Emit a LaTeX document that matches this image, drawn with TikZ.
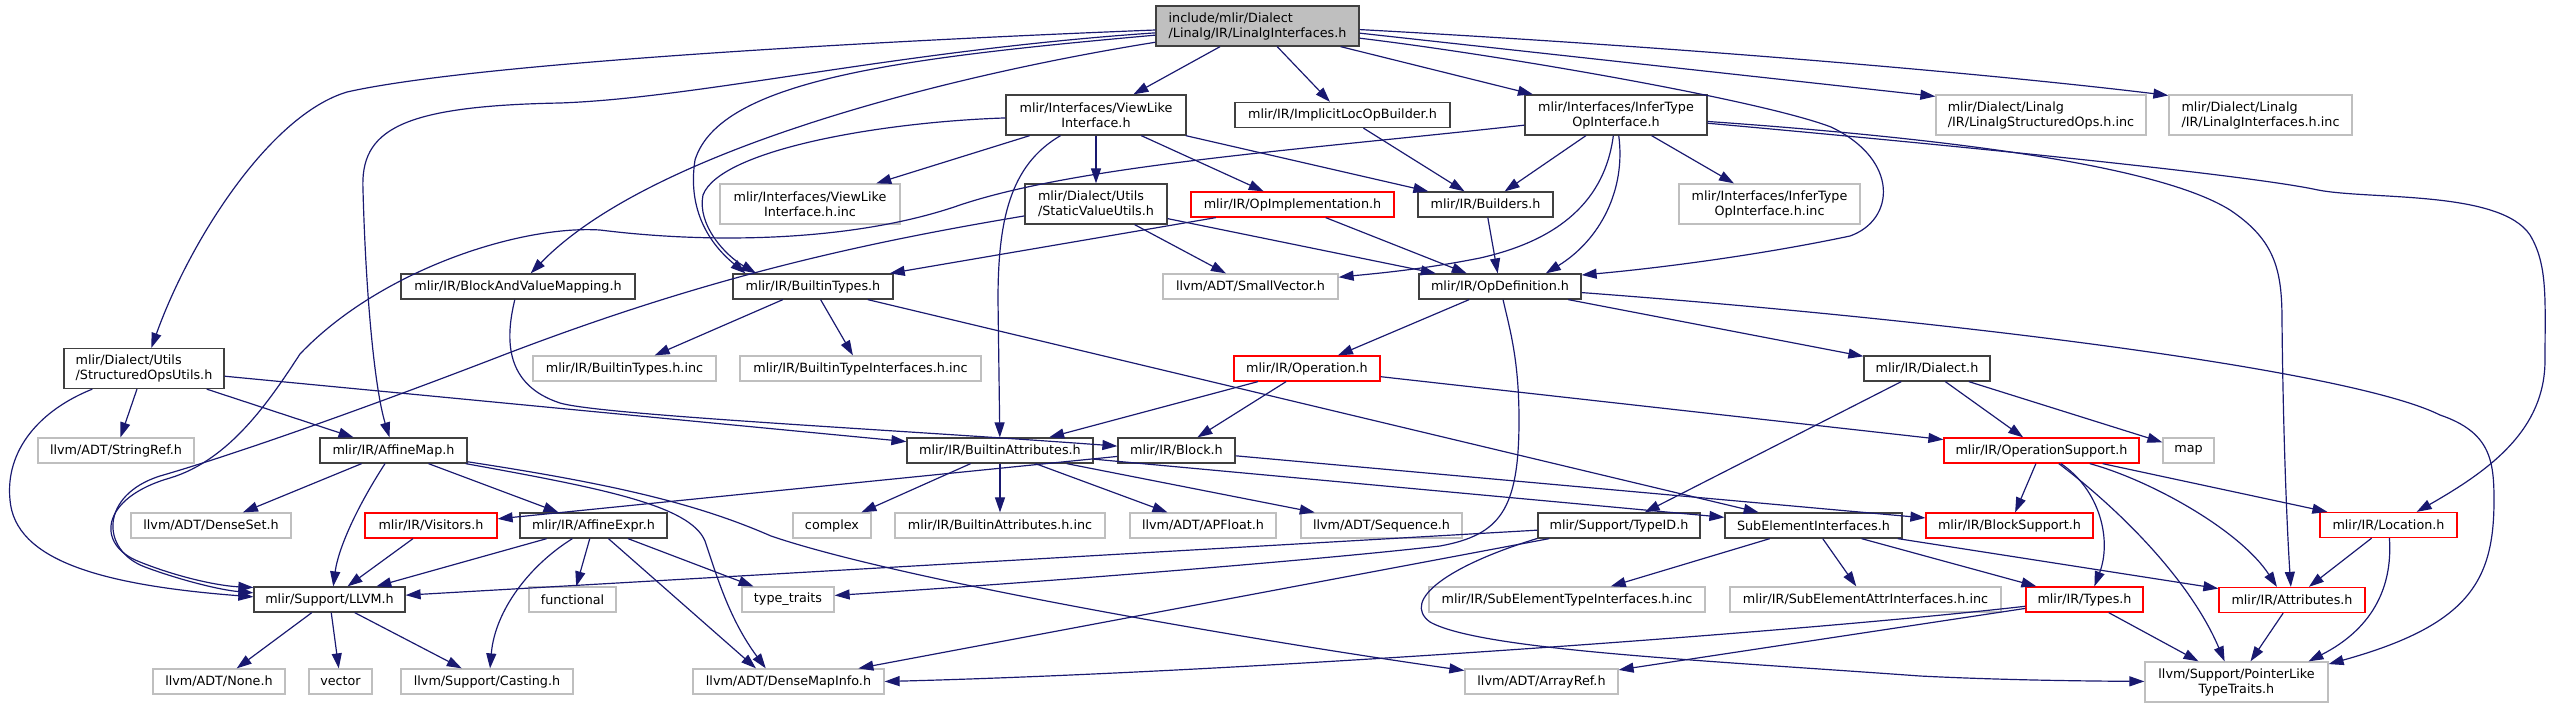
\documentclass[tikz,border=0pt]{standalone}
\usepackage{fontspec}
\setmainfont{DejaVu Sans}
\usetikzlibrary{arrows.meta}
\definecolor{navyedge}{HTML}{191970}
\definecolor{docborder}{HTML}{404040}
\definecolor{extgray}{HTML}{BFBFBF}
\definecolor{truncred}{HTML}{FF0000}
\definecolor{topfill}{HTML}{BFBFBF}
\newcommand\nodefont{\fontsize{10.2}{12}\selectfont}
\tikzset{
  nb/.style={draw=docborder, line width=1pt, fill=white, rectangle, inner sep=0pt,
    minimum height=20pt, font=\nodefont, text=black},
  ext/.style={nb, draw=extgray},
  trunc/.style={nb, draw=truncred},
  two/.style={minimum height=32pt},
  wd/.style={minimum width=#1*0.8pt},
  conn/.style={draw=navyedge, line width=0.95pt, -{Triangle[length=12pt,width=8pt]}},
}
\begin{document}
\begin{tikzpicture}[x=0.8pt,y=-0.8pt]
\useasboundingbox (0,0) rectangle (2550,708);
% ---------------- nodes ----------------
\node[nb, two, wd=203, fill=topfill, align=left] (top) at (1257.5,26) {include/mlir/Dialect\\/Linalg/IR/LinalgInterfaces.h};
\node[nb, two, wd=180, align=center] (viewlike) at (1096,115) {mlir/Interfaces/ViewLike\\Interface.h};
\node[nb, wd=215] (implicit) at (1342.5,115) {mlir/IR/ImplicitLocOpBuilder.h};
\node[nb, two, wd=182, align=center] (infertype) at (1616,115) {mlir/Interfaces/InferType\\OpInterface.h};
\node[ext, two, wd=210, align=left] (lsoinc) at (2041,115) {mlir/Dialect/Linalg\\/IR/LinalgStructuredOps.h.inc};
\node[ext, two, wd=183, align=left] (liinc) at (2260.5,115) {mlir/Dialect/Linalg\\/IR/LinalgInterfaces.h.inc};
\node[ext, two, wd=180, align=center] (viewlikeinc) at (810,204) {mlir/Interfaces/ViewLike\\Interface.h.inc};
\node[nb, two, wd=142, align=left] (staticvalue) at (1096,204) {mlir/Dialect/Utils\\/StaticValueUtils.h};
\node[trunc, wd=203] (opimpl) at (1292.5,204.5) {mlir/IR/OpImplementation.h};
\node[nb, wd=135] (builders) at (1485.5,204.5) {mlir/IR/Builders.h};
\node[ext, two, wd=181, align=center] (infertypeinc) at (1769.5,204) {mlir/Interfaces/InferType\\OpInterface.h.inc};
\node[nb, wd=234] (bavm) at (518,286.5) {mlir/IR/BlockAndValueMapping.h};
\node[nb, wd=160] (builtintypes) at (813,286.5) {mlir/IR/BuiltinTypes.h};
\node[ext, wd=175] (smallvector) at (1250.5,286.5) {llvm/ADT/SmallVector.h};
\node[nb, wd=162] (opdef) at (1500,286.5) {mlir/IR/OpDefinition.h};
\node[nb, two, wd=160, align=left] (structops) at (144,368.5) {mlir/Dialect/Utils\\/StructuredOpsUtils.h};
\node[ext, wd=183] (btinc) at (624.5,368.5) {mlir/IR/BuiltinTypes.h.inc};
\node[ext, wd=241] (btiinc) at (860.5,368.5) {mlir/IR/BuiltinTypeInterfaces.h.inc};
\node[trunc, wd=146] (operation) at (1307,368.5) {mlir/IR/Operation.h};
\node[nb, wd=126] (dialect) at (1927,368.5) {mlir/IR/Dialect.h};
\node[ext, wd=156] (stringref) at (116,450.5) {llvm/ADT/StringRef.h};
\node[nb, wd=147] (affinemap) at (393.5,450.5) {mlir/IR/AffineMap.h};
\node[nb, wd=186] (builtinattrs) at (1000,450.5) {mlir/IR/BuiltinAttributes.h};
\node[nb, wd=117] (block) at (1176.5,450.5) {mlir/IR/Block.h};
\node[trunc, wd=195] (opsupport) at (2041.5,450.5) {mlir/IR/OperationSupport.h};
\node[ext, wd=51] (map) at (2188.5,450.5) {map};
\node[ext, wd=160] (denseset) at (211,525.5) {llvm/ADT/DenseSet.h};
\node[trunc, wd=132] (visitors) at (431,525.5) {mlir/IR/Visitors.h};
\node[nb, wd=147] (affineexpr) at (593.5,525.5) {mlir/IR/AffineExpr.h};
\node[ext, wd=78] (complex) at (832,525.5) {complex};
\node[ext, wd=210] (bainc) at (1000,525.5) {mlir/IR/BuiltinAttributes.h.inc};
\node[ext, wd=146] (apfloat) at (1203,525.5) {llvm/ADT/APFloat.h};
\node[ext, wd=161] (sequence) at (1381.5,525.5) {llvm/ADT/Sequence.h};
\node[nb, wd=162] (typeid) at (1619,525.5) {mlir/Support/TypeID.h};
\node[nb, wd=177] (subelem) at (1813.5,525.5) {SubElementInterfaces.h};
\node[trunc, wd=167] (blocksupport) at (2009.5,525.5) {mlir/IR/BlockSupport.h};
\node[trunc, wd=137] (location) at (2388.5,525) {mlir/IR/Location.h};
\node[nb, wd=151] (llvm) at (329.5,599.5) {mlir/Support/LLVM.h};
\node[ext, wd=87] (functional) at (572.5,599.5) {functional};
\node[ext, wd=92] (typetraits) at (788,599.5) {type\_traits};
\node[ext, wd=276] (setinc) at (1567,599.5) {mlir/IR/SubElementTypeInterfaces.h.inc};
\node[ext, wd=271] (saiinc) at (1865.5,599.5) {mlir/IR/SubElementAttrInterfaces.h.inc};
\node[trunc, wd=117] (types) at (2084.5,599.5) {mlir/IR/Types.h};
\node[trunc, wd=146] (attributes) at (2292,600) {mlir/IR/Attributes.h};
\node[ext, wd=132] (none) at (219,681.5) {llvm/ADT/None.h};
\node[ext, wd=63] (vector) at (340.5,681.5) {vector};
\node[ext, wd=172] (casting) at (487,681.5) {llvm/Support/Casting.h};
\node[ext, wd=191] (densemapinfo) at (788.5,681.5) {llvm/ADT/DenseMapInfo.h};
\node[ext, wd=153] (arrayref) at (1541.5,681.5) {llvm/ADT/ArrayRef.h};
\node[ext, two, wd=183, align=center] (pointerlike) at (2236.5,682) {llvm/Support/PointerLike\\TypeTraits.h};
% ---------------- edges ----------------
% from the top file
\draw[conn] (top) .. controls (900,40) and (480,62) .. (347,92) .. controls (270,115) and (190,240) .. (structops);
\draw[conn] (top) .. controls (900,50) and (700,98) .. (560,103) .. controls (400,106) and (360,130) .. (363,190) .. controls (366,300) and (375,390) .. (affinemap);
\draw[conn] (top) .. controls (950,75) and (650,150) .. (bavm);
\draw[conn] (top) .. controls (900,58) and (720,80) .. (695,160) .. controls (688,205) and (705,240) .. (builtintypes.169);
\draw[conn] (top) -- (viewlike);
\draw[conn] (top) -- (implicit);
\draw[conn] (top) -- (infertype);
\draw[conn] (top) .. controls (1500,55) and (1760,100) .. (1831,127) .. controls (1900,160) and (1895,220) .. (1850,236) .. controls (1760,255) and (1660,268) .. (opdef.8);
\draw[conn] (top.-4) -- (lsoinc.170);
\draw[conn] (top.-2) .. controls (1700,48) and (2000,75) .. (liinc.168);
% ViewLikeInterface
\draw[conn] (viewlike) -- (viewlikeinc);
\draw[conn] (viewlike) -- (staticvalue);
\draw[conn] (viewlike) -- (opimpl);
\draw[conn] (viewlike) -- (builders);
\draw[conn] (viewlike) .. controls (880,122) and (720,150) .. (703,195) .. controls (697,225) and (725,255) .. (builtintypes.167);
\draw[conn] (viewlike) .. controls (1010,165) and (998,220) .. (998,300) -- (builtinattrs);
% ImplicitLocOpBuilder
\draw[conn] (implicit) -- (builders);
% InferTypeOpInterface
\draw[conn] (infertype) -- (builders);
\draw[conn] (infertype) .. controls (1626,190) and (1600,240) .. (opdef.16);
\draw[conn] (infertype) -- (infertypeinc);
\draw[conn] (infertype) .. controls (1605,200) and (1560,240) .. (1480,258) .. controls (1420,270) and (1370,274) .. (smallvector.6);
\draw[conn] (infertype) .. controls (1300,150) and (1080,165) .. (960,205) .. controls (860,240) and (720,245) .. (600,230) .. controls (520,225) and (380,270) .. (300,354) .. controls (270,400) and (230,460) .. (170,478) .. controls (100,498) and (95,545) .. (140,562) .. controls (180,578) and (220,586) .. (llvm.171);
\draw[conn] (infertype) .. controls (1900,135) and (2150,160) .. (2230,210) .. controls (2275,240) and (2282,270) .. (2282,320) .. controls (2283,430) and (2287,530) .. (attributes.95);
\draw[conn] (infertype) .. controls (1950,145) and (2250,175) .. (2318,190) .. controls (2370,200) and (2500,190) .. (2530,235) .. controls (2548,265) and (2545,300) .. (2545,360) .. controls (2545,430) and (2490,470) .. (location.25);
% StaticValueUtils
\draw[conn] (staticvalue) .. controls (850,245) and (700,280) .. (506,354) .. controls (400,395) and (250,450) .. (160,476) .. controls (100,495) and (100,550) .. (145,567) .. controls (180,580) and (220,590) .. (llvm.175);
\draw[conn] (staticvalue) -- (smallvector);
\draw[conn] (staticvalue) -- (opdef);
% OpImplementation, Builders
\draw[conn] (opimpl) -- (builtintypes);
\draw[conn] (opimpl) -- (opdef);
\draw[conn] (builders) -- (opdef);
% BlockAndValueMapping
\draw[conn] (bavm) .. controls (505,340) and (505,385) .. (560,403) .. controls (600,415) and (900,430) .. (block);
% BuiltinTypes
\draw[conn] (builtintypes) -- (btinc);
\draw[conn] (builtintypes) -- (btiinc);
\draw[conn] (builtintypes) -- (subelem);
% OpDefinition
\draw[conn] (opdef) -- (operation);
\draw[conn] (opdef) .. controls (1510,330) and (1519,360) .. (1519,420) .. controls (1519,510) and (1500,535) .. (1440,546) .. controls (1300,562) and (1000,585) .. (typetraits.5);
\draw[conn] (opdef) -- (dialect);
\draw[conn] (opdef) .. controls (1950,320) and (2350,370) .. (2440,415) .. controls (2490,432) and (2494,460) .. (2494,500) .. controls (2494,580) and (2470,625) .. (pointerlike.11);
% Operation, Dialect
\draw[conn] (operation) -- (builtinattrs);
\draw[conn] (operation) -- (block);
\draw[conn] (operation) -- (opsupport);
\draw[conn] (dialect) -- (opsupport);
\draw[conn] (dialect) -- (map);
\draw[conn] (dialect) -- (typeid);
% StructuredOpsUtils
\draw[conn] (structops) -- (stringref);
\draw[conn] (structops) -- (affinemap);
\draw[conn] (structops) -- (builtinattrs);
\draw[conn] (structops) .. controls (40,410) and (5,450) .. (10,500) .. controls (15,560) and (100,585) .. (llvm.178);
% BuiltinAttributes
\draw[conn] (builtinattrs) -- (complex);
\draw[conn] (builtinattrs) -- (bainc);
\draw[conn] (builtinattrs) -- (apfloat);
\draw[conn] (builtinattrs) -- (sequence);
\draw[conn] (builtinattrs) -- (subelem);
% Block
\draw[conn] (block) -- (blocksupport);
\draw[conn] (block) -- (visitors);
% AffineMap
\draw[conn] (affinemap) -- (denseset);
\draw[conn] (affinemap) .. controls (355,510) and (338,550) .. (llvm.74);
\draw[conn] (affinemap) -- (affineexpr);
\draw[conn] (affinemap) .. controls (620,485) and (700,505) .. (771,536) .. controls (900,580) and (1250,640) .. (arrayref);
\draw[conn] (affinemap) .. controls (600,488) and (690,505) .. (705,541) .. controls (718,580) and (730,620) .. (densemapinfo.150);
% Visitors, AffineExpr
\draw[conn] (visitors) -- (llvm);
\draw[conn] (affineexpr) -- (llvm);
\draw[conn] (affineexpr) -- (functional);
\draw[conn] (affineexpr) .. controls (530,565) and (495,610) .. (casting.77);
\draw[conn] (affineexpr) -- (typetraits);
\draw[conn] (affineexpr) -- (densemapinfo.158);
% LLVM.h
\draw[conn] (llvm) -- (none);
\draw[conn] (llvm) -- (vector);
\draw[conn] (llvm) -- (casting);
% TypeID
\draw[conn] (typeid) -- (llvm);
\draw[conn] (typeid) -- (densemapinfo);
\draw[conn] (typeid.-171) .. controls (1450,565) and (1400,600) .. (1430,622) .. controls (1480,650) and (1700,660) .. (1920,676) .. controls (2000,680) and (2080,681) .. (pointerlike);
% SubElementInterfaces
\draw[conn] (subelem) -- (setinc);
\draw[conn] (subelem) -- (saiinc);
\draw[conn] (subelem) -- (types);
\draw[conn] (subelem) -- (attributes);
% OperationSupport
\draw[conn] (opsupport) -- (blocksupport);
\draw[conn] (opsupport) .. controls (2100,490) and (2112,540) .. (types.53);
\draw[conn] (opsupport) .. controls (2120,510) and (2190,580) .. (pointerlike.120);
\draw[conn] (opsupport) .. controls (2150,480) and (2240,530) .. (attributes.139);
\draw[conn] (opsupport) -- (location);
% Location, Types, Attributes
\draw[conn] (location) -- (attributes);
\draw[conn] (location) .. controls (2393,590) and (2370,630) .. (pointerlike.16);
\draw[conn] (types) -- (pointerlike);
\draw[conn] (types) .. controls (1800,632) and (1250,672) .. (densemapinfo.east);
\draw[conn] (types) -- (arrayref);
\draw[conn] (attributes) -- (pointerlike);
\end{tikzpicture}
\end{document}
